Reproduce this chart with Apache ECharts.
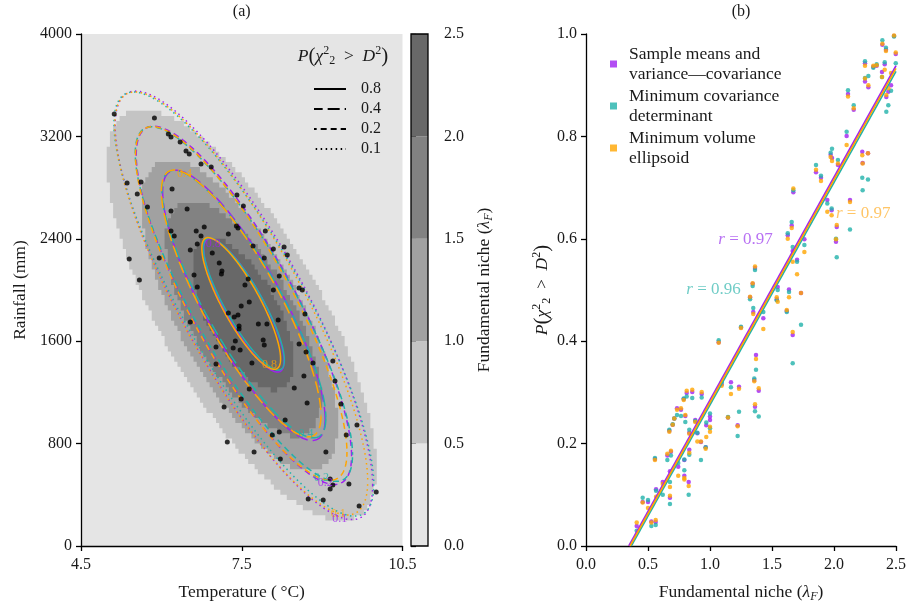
<!DOCTYPE html>
<html>
<head>
<meta charset="utf-8">
<title>Fundamental niche and ellipses</title>
<script src="https://cdn.jsdelivr.net/npm/echarts@6.0.0/dist/echarts.min.js"></script>
<style>
  html, body { margin: 0; padding: 0; background: #fff; }
  #chart { width: 911px; height: 605px; }
</style>
</head>
<body>
<div id="chart"></div>
<script>
// ---------- panel (a): sampled sites ----------
const siteTemp = [
  5.12, 5.87, 6.13, 6.18, 6.35, 6.46, 6.52, 6.74, 6.93, 5.36,
  5.62, 5.55, 6.20, 7.41, 7.53, 5.74, 6.48, 6.18, 6.80, 7.40,
  7.43, 6.65, 6.18, 6.24, 6.74, 7.25, 7.94, 6.67, 7.71, 8.29,
  6.54, 6.95, 8.09, 7.92, 8.35, 5.96, 5.40, 7.08, 7.13, 7.12,
  7.62, 7.56, 8.20, 5.59, 6.61, 6.67, 8.09, 8.57, 8.63, 7.64,
  7.49, 7.25, 7.43, 7.36, 8.18, 7.81, 7.97, 6.54, 7.45, 7.45,
  8.68, 7.38, 7.90, 7.92, 7.34, 7.47, 7.02, 8.57, 8.70, 7.69,
  7.02, 8.83, 9.20, 8.66, 9.24, 7.64, 8.48, 7.49, 7.17, 8.72,
  9.35, 9.65, 8.31, 8.20, 8.07, 9.45, 7.23, 9.07, 7.73, 8.22,
  9.15, 9.50, 9.20, 9.15, 10.01, 8.74, 9.02, 9.69
];
const siteRain = [
  3375, 3344, 3219, 3195, 3156, 3086, 3063, 2984, 2961, 2836,
  2844, 2750, 2789, 2742, 2656, 2648, 2633, 2617, 2492, 2500,
  2484, 2461, 2461, 2422, 2422, 2438, 2461, 2359, 2344, 2336,
  2313, 2289, 2320, 2250, 2273, 2250, 2242, 2211, 2148, 2125,
  2086, 2039, 2109, 2078, 2117, 2023, 2000, 2016, 2000, 1906,
  1875, 1820, 1805, 1789, 1766, 1734, 1734, 1750, 1719, 1695,
  1813, 1602, 1609, 1570, 1547, 1531, 1555, 1578, 1516, 1430,
  1422, 1430, 1445, 1328, 1289, 1227, 1234, 1148, 1086, 1117,
  1109, 945, 984, 891, 867, 867, 813, 734, 734, 680,
  523, 484, 477, 445, 422, 367, 359, 313
];
const tempTicks = [4.5, 7.5, 10.5];

// fundamental niche map: band outlines (lower bound of lambda_F)
const bandLevels = [0.5, 1.0, 1.5, 2.0];
const bandCenterT = [7.50, 7.46, 7.53, 7.52];
const bandCenterR = [1805, 1801, 1775, 1812];
const bandHalfT = [2.51, 1.83, 1.45, 0.95];
const bandHalfR = [1609, 1215, 918, 594];
const bandRho = [-0.74, -0.71, -0.67, -0.62];
const nicheBreaks = [0, 0.5, 1.0, 1.5, 2.0, 2.5];
const nicheColors = ['#e5e5e5', '#c4c4c4', '#a1a1a1', '#828282', '#686868'];
// raster of the niche map: 100 x 100 cells
const rasterT0 = 4.5, rasterCellT = 0.06, rasterCellR = 40, rasterRows = 100;

// fitted ellipses, one per estimator
const methodNames = [
  'Sample means and\nvariance\u2014covariance',
  'Minimum covariance\ndeterminant',
  'Minimum volume\nellipsoid'
];
const methodColors = ['#a020f0', '#20b2aa', '#ffa500'];
const ellCenterT = [7.54, 7.54, 7.49];
const ellCenterR = [1880, 1890, 1895];
const ellSdT = [1.12, 1.13, 1.10];
const ellSdR = [780, 772, 770];
const ellRho = [-0.84, -0.85, -0.84];
const probLevels = [0.8, 0.4, 0.2, 0.1];
const probDash = [null, [12, 5], [6, 4], [1.5, 3.5]];

// inline contour labels
const cLabelText = ['0.8', '0.8', '0.4', '0.4', '0.2', '0.2', '0.1', '0.1'];
const cLabelT = [6.97, 8.02, 6.43, 8.70, 8.99, 9.06, 9.30, 9.33];
const cLabelR = [2359, 1414, 2911, 875, 529, 490, 255, 211];
const cLabelMethod = [0, 2, 2, 1, 1, 0, 2, 0];

// ---------- panel (b) ----------
const nicheX = [
  0.409, 0.457, 0.500, 0.527, 0.562, 0.556, 0.565, 0.619, 0.656, 0.677,
  0.677, 0.685, 0.672, 0.699, 0.712, 0.734, 0.744, 0.766, 0.788, 0.793,
  0.793, 0.801, 0.812, 0.828, 0.833, 0.833, 0.857, 0.881, 0.898, 0.927,
  0.933, 0.965, 0.970, 1.000, 1.000, 1.070, 1.094, 1.145, 1.169, 1.223,
  1.234, 1.250, 1.323, 1.344, 1.349, 1.357, 1.363, 1.363, 1.371, 1.393,
  1.430, 1.538, 1.546, 1.619, 1.627, 1.637, 1.659, 1.667, 1.672, 1.667,
  1.702, 1.734, 1.761, 1.855, 1.895, 1.946, 1.981, 1.973, 1.984, 2.016,
  2.022, 2.032, 2.102, 2.113, 2.129, 2.159, 2.228, 2.231, 2.250, 2.250,
  2.274, 2.277, 2.317, 2.344, 2.387, 2.390, 2.409, 2.419, 2.422, 2.438,
  2.460, 2.484, 2.498
];
const probSample = [
  0.039, 0.086, 0.086, 0.048, 0.047, 0.170, 0.111, 0.125, 0.177, 0.146,
  0.094, 0.184, 0.225, 0.237, 0.249, 0.269, 0.155, 0.266, 0.287, 0.168,
  0.137, 0.254, 0.299, 0.125, 0.221, 0.188, 0.301, 0.246, 0.220, 0.203,
  0.297, 0.193, 0.236, 0.253, 0.246, 0.398, 0.316, 0.251, 0.320, 0.236,
  0.311, 0.427, 0.486, 0.512, 0.457, 0.324, 0.543, 0.272, 0.373, 0.303,
  0.445, 0.482, 0.506, 0.459, 0.607, 0.501, 0.626, 0.576, 0.691, 0.412,
  0.559, 0.494, 0.599, 0.730, 0.719, 0.676, 0.656, 0.764, 0.758, 0.594,
  0.623, 0.744, 0.801, 0.883, 0.676, 0.852, 0.770, 0.748, 0.907, 0.943,
  0.767, 0.896, 0.936, 0.938, 0.926, 0.979, 0.941, 0.969, 0.877, 0.887,
  0.900, 0.996, 0.961
];
const probMCD = [
  0.030, 0.094, 0.090, 0.039, 0.041, 0.172, 0.108, 0.100, 0.168, 0.125,
  0.082, 0.177, 0.227, 0.238, 0.249, 0.256, 0.162, 0.254, 0.288, 0.169,
  0.148, 0.242, 0.292, 0.100, 0.227, 0.178, 0.289, 0.244, 0.221, 0.168,
  0.290, 0.193, 0.241, 0.259, 0.230, 0.402, 0.320, 0.252, 0.310, 0.215,
  0.262, 0.428, 0.482, 0.508, 0.465, 0.327, 0.539, 0.263, 0.344, 0.253,
  0.457, 0.480, 0.500, 0.457, 0.611, 0.496, 0.633, 0.584, 0.695, 0.357,
  0.555, 0.432, 0.588, 0.744, 0.723, 0.669, 0.659, 0.768, 0.776, 0.600,
  0.564, 0.754, 0.809, 0.890, 0.618, 0.861, 0.719, 0.695, 0.914, 0.947,
  0.716, 0.918, 0.934, 0.941, 0.916, 0.988, 0.945, 0.973, 0.848, 0.861,
  0.889, 0.995, 0.943
];
const probMVE = [
  0.046, 0.085, 0.074, 0.046, 0.051, 0.168, 0.096, 0.121, 0.180, 0.115,
  0.098, 0.186, 0.223, 0.237, 0.249, 0.266, 0.137, 0.269, 0.285, 0.133,
  0.130, 0.256, 0.303, 0.117, 0.219, 0.182, 0.305, 0.242, 0.204, 0.204,
  0.301, 0.190, 0.213, 0.233, 0.223, 0.397, 0.313, 0.251, 0.297, 0.234,
  0.307, 0.426, 0.487, 0.513, 0.453, 0.322, 0.546, 0.277, 0.365, 0.308,
  0.424, 0.486, 0.477, 0.461, 0.600, 0.486, 0.621, 0.555, 0.698, 0.418,
  0.531, 0.494, 0.574, 0.735, 0.713, 0.653, 0.646, 0.760, 0.752, 0.599,
  0.627, 0.747, 0.783, 0.878, 0.672, 0.855, 0.763, 0.747, 0.913, 0.938,
  0.767, 0.900, 0.938, 0.939, 0.916, 0.981, 0.930, 0.967, 0.881, 0.894,
  0.924, 0.997, 0.964
];
const methodProbs = [probSample, probMCD, probMVE];

// regression lines: from (x0, 0) to (2.5, y1)
const fitX0 = [0.345, 0.365, 0.355];
const fitY1 = [0.938, 0.927, 0.933];
const fitXEnd = 2.5;
const rValues = ['0.97', '0.96', '0.97'];
const rLabelX = [1.506, 1.248, 2.016];
const rLabelY = [0.598, 0.500, 0.650];
const rLabelSide = ['left', 'left', 'right'];
const rLabelColors = ['#a64df0', '#4bbfb8', '#ffb740'];

// ---------- styling ----------
const FONT = 'Liberation Serif';
const TEXT = '#1a1a1a';
const tickText = { fontFamily: FONT, fontSize: 16, color: TEXT };
const wordText = { fontFamily: FONT, fontSize: 17.5, color: TEXT };
const mathRich = {
  it: { fontFamily: FONT, fontSize: 17.5, fontStyle: 'italic', color: TEXT, lineHeight: 22 },
  rm: { fontFamily: FONT, fontSize: 17.5, color: TEXT, lineHeight: 22 },
  big: { fontFamily: FONT, fontSize: 21, color: TEXT, lineHeight: 22 },
  sup: { fontFamily: FONT, fontSize: 12, color: TEXT, lineHeight: 12, verticalAlign: 'top' },
  sub: { fontFamily: FONT, fontSize: 12, color: TEXT, lineHeight: 12, verticalAlign: 'bottom' },
  subi: { fontFamily: FONT, fontSize: 12, fontStyle: 'italic', color: TEXT, lineHeight: 12, verticalAlign: 'bottom' }
};
const probText = '{it|P}{big|(}{it|\u03c7}{sup|2}{sub|2}{rm|\u2002>\u2002}{it|D}{sup|2}{big|)}';
const nicheName = '{rm|Fundamental niche (}{it|\u03bb}{subi|F}{rm|)}';

function axisCommon(extra) {
  return Object.assign({
    axisLine: { show: true, lineStyle: { color: '#000', width: 1.3 } },
    axisTick: { show: true, inside: false, length: 5, lineStyle: { color: '#000', width: 1.3 } },
    axisLabel: Object.assign({ margin: 9 }, tickText),
    splitLine: { show: false },
    nameLocation: 'middle',
    nameTextStyle: Object.assign({ rich: mathRich }, wordText)
  }, extra);
}

// parametric ellipse in data space -> pixel points
function ellipseRing(api, cT, cR, hT, hR, rho, n) {
  const pts = [];
  const s = Math.sqrt(1 - rho * rho);
  for (let i = 0; i <= n; i++) {
    const t = 2 * Math.PI * i / n;
    pts.push(api.coord([cT + hT * Math.cos(t), cR + hR * (rho * Math.cos(t) + s * Math.sin(t))]));
  }
  return pts;
}

// stair-step outline of an elliptical band on the niche raster
function bandOutline(api, cT, cR, hT, hR, rho) {
  const rows = [];
  for (let j = 0; j < rasterRows; j++) {
    const r0 = j * rasterCellR, r1 = r0 + rasterCellR;
    const v = ((r0 + r1) / 2 - cR) / hR;
    if (Math.abs(v) >= 1) continue;
    const w = Math.sqrt((1 - rho * rho) * (1 - v * v));
    const tMin = cT + hT * (rho * v - w);
    const tMax = cT + hT * (rho * v + w);
    const iL = Math.ceil((tMin - rasterT0) / rasterCellT - 0.5);
    const iR = Math.floor((tMax - rasterT0) / rasterCellT - 0.5);
    if (iL > iR) continue;
    rows.push({ tL: rasterT0 + iL * rasterCellT, tR: rasterT0 + (iR + 1) * rasterCellT, r0, r1 });
  }
  const pts = [];
  rows.forEach(r => { pts.push(api.coord([r.tL, r.r0]), api.coord([r.tL, r.r1])); });
  rows.slice().reverse().forEach(r => { pts.push(api.coord([r.tR, r.r1]), api.coord([r.tR, r.r0])); });
  return pts;
}

const series = [];

// niche bands
series.push({
  type: 'custom', name: 'niche', xAxisIndex: 0, yAxisIndex: 0, z: 1, silent: true,
  encode: { x: 0, y: 1 },
  data: bandLevels.map((lv, i) => [bandCenterT[i], bandCenterR[i], bandHalfT[i], bandHalfR[i], bandRho[i], i]),
  renderItem: (params, api) => ({
    type: 'polygon',
    shape: { points: bandOutline(api, api.value(0), api.value(1), api.value(2), api.value(3), api.value(4)) },
    style: { fill: nicheColors[api.value(5) + 1], stroke: null }
  })
});

// ellipses for each estimator and probability level
methodNames.forEach((nm, m) => {
  series.push({
    type: 'custom', name: 'ellipse' + m, xAxisIndex: 0, yAxisIndex: 0, z: 3, silent: true,
    encode: { x: 0, y: 1 },
    data: probLevels.map((p, l) => [ellCenterT[m], ellCenterR[m], ellSdT[m], ellSdR[m], ellRho[m], l]),
    renderItem: (params, api) => {
      const l = api.value(5);
      const d = Math.sqrt(-2 * Math.log(probLevels[l]));
      const dash = probDash[l];
      const period = dash ? dash[0] + dash[1] : 0;
      return {
        type: 'polyline',
        shape: { points: ellipseRing(api, api.value(0), api.value(1), d * api.value(2), d * api.value(3), api.value(4), 240) },
        style: { fill: null, stroke: methodColors[m], lineWidth: 1.5, lineDash: dash, lineDashOffset: m * period / 3 }
      };
    }
  });
});

// contour labels
series.push({
  type: 'scatter', name: 'contour labels', xAxisIndex: 0, yAxisIndex: 0, z: 5, silent: true,
  symbolSize: 0,
  data: cLabelText.map((t, i) => ({
    value: [cLabelT[i], cLabelR[i]],
    label: {
      show: true, position: 'inside', formatter: t,
      fontFamily: FONT, fontSize: 12, color: methodColors[cLabelMethod[i]], opacity: 0.75
    }
  }))
});

// sample sites
series.push({
  type: 'scatter', name: 'sites', xAxisIndex: 0, yAxisIndex: 0, z: 4, silent: true,
  symbolSize: 5, itemStyle: { color: '#000' },
  data: siteTemp.map((t, i) => [t, siteRain[i]])
});

// dummy series for the line-style legend of panel (a)
probLevels.forEach((p, l) => {
  series.push({
    type: 'line', name: String(p), xAxisIndex: 0, yAxisIndex: 0, data: [],
    symbol: 'none', itemStyle: { color: '#000' },
    lineStyle: { color: '#000', width: 1.5, type: probDash[l] || 'solid' }
  });
});

// colorbar
series.push({
  type: 'custom', name: 'colorbar', xAxisIndex: 1, yAxisIndex: 1, z: 2, silent: true,
  encode: { x: 0, y: 1 },
  data: nicheColors.map((c, i) => [0.5, nicheBreaks[i], nicheBreaks[i + 1], i]),
  renderItem: (params, api) => {
    const p0 = api.coord([0, api.value(1)]);
    const p1 = api.coord([1, api.value(2)]);
    return {
      type: 'rect',
      shape: { x: p0[0], y: p1[1], width: p1[0] - p0[0], height: p0[1] - p1[1] },
      style: { fill: nicheColors[api.value(3)], stroke: null }
    };
  }
});
series.push({
  type: 'custom', name: 'colorbar frame', xAxisIndex: 1, yAxisIndex: 1, z: 3, silent: true,
  encode: { x: 0, y: 1 },
  data: [[0.5, nicheBreaks[0], nicheBreaks[nicheBreaks.length - 1]]],
  renderItem: (params, api) => {
    const p0 = api.coord([0, api.value(1)]);
    const p1 = api.coord([1, api.value(2)]);
    return {
      type: 'rect',
      shape: { x: p0[0], y: p1[1], width: p1[0] - p0[0], height: p0[1] - p1[1] },
      style: { fill: null, stroke: '#000', lineWidth: 1.3 }
    };
  }
});

// panel (b) scatter points
methodNames.forEach((nm, m) => {
  series.push({
    type: 'scatter', name: nm, xAxisIndex: 2, yAxisIndex: 2, z: 3,
    symbolSize: 4.5, itemStyle: { color: methodColors[m] },
    data: nicheX.map((x, i) => [x, methodProbs[m][i]])
  });
});

// regression lines
methodNames.forEach((nm, m) => {
  series.push({
    type: 'line', name: 'fit' + m, xAxisIndex: 2, yAxisIndex: 2, z: 4,
    symbol: 'none', silent: true,
    lineStyle: { color: methodColors[m], width: 1.6 },
    data: [[fitX0[m], 0], [fitXEnd, fitY1[m]]]
  });
});

// correlation labels
series.push({
  type: 'scatter', name: 'r labels', xAxisIndex: 2, yAxisIndex: 2, z: 5, silent: true,
  symbolSize: 0,
  data: rValues.map((v, m) => ({
    value: [rLabelX[m], rLabelY[m]],
    label: {
      show: true, position: rLabelSide[m], distance: 0,
      formatter: '{i|r} = ' + v,
      fontFamily: FONT, fontSize: 17, color: rLabelColors[m],
      rich: { i: { fontFamily: FONT, fontSize: 17, fontStyle: 'italic', color: rLabelColors[m] } }
    }
  }))
});

const option = {
  animation: false,
  backgroundColor: '#fff',
  textStyle: { fontFamily: FONT },
  grid: [
    { left: 81, top: 34, width: 321.5, height: 512, show: true, backgroundColor: nicheColors[0], borderWidth: 0, outerBoundsMode: 'none' },
    { left: 411, top: 34, width: 17, height: 512, show: false, outerBoundsMode: 'none' },
    { left: 586, top: 34, width: 310, height: 512, show: false, outerBoundsMode: 'none' }
  ],
  xAxis: [
    axisCommon({
      gridIndex: 0, type: 'value', min: 4.5, max: 10.5,
      axisTick: { show: true, inside: false, length: 5, customValues: tempTicks, lineStyle: { color: '#000', width: 1.3 } },
      axisLabel: Object.assign({ margin: 11, customValues: tempTicks, formatter: v => v.toFixed(1) }, tickText),
      name: '{rm|Temperature (\u2009\u00b0C)}', nameGap: 35
    }),
    { gridIndex: 1, type: 'value', min: 0, max: 1, show: false },
    axisCommon({
      gridIndex: 2, type: 'value', min: 0, max: 2.5, interval: 0.5,
      axisLabel: Object.assign({ margin: 11, formatter: v => v.toFixed(1) }, tickText),
      name: nicheName, nameGap: 35
    })
  ],
  yAxis: [
    axisCommon({
      gridIndex: 0, type: 'value', min: 0, max: 4000, interval: 800,
      axisLabel: Object.assign({ margin: 9, formatter: v => String(v) }, tickText),
      name: '{rm|Rainfall (mm)}', nameGap: 50
    }),
    axisCommon({
      gridIndex: 1, type: 'value', min: 0, max: 2.5, interval: 0.5, position: 'right',
      axisLine: { show: false },
      axisLabel: Object.assign({ margin: 16, formatter: v => v.toFixed(1) }, tickText),
      name: nicheName, nameGap: 45, nameRotate: 90
    }),
    axisCommon({
      gridIndex: 2, type: 'value', min: 0, max: 1, interval: 0.2,
      axisLabel: Object.assign({ margin: 9, formatter: v => v.toFixed(1) }, tickText),
      name: probText, nameGap: 28
    })
  ],
  legend: [
    {
      data: probLevels.map(String), orient: 'vertical', left: 313, top: 81, padding: 0,
      itemWidth: 32, itemHeight: 14, itemGap: 4, selectedMode: false,
      itemStyle: { color: 'rgba(0,0,0,0)', borderWidth: 0 },
      textStyle: Object.assign({ lineHeight: 14, padding: [0, 0, 0, 10] }, tickText)
    },
    {
      data: methodNames, orient: 'vertical', left: 610, top: 44, padding: 0,
      icon: 'rect', itemWidth: 7, itemHeight: 7, itemGap: 2, selectedMode: false,
      textStyle: Object.assign({ lineHeight: 20, padding: [0, 0, 0, 7] }, wordText)
    }
  ],
  graphic: [
    { type: 'text', x: 241.7, y: 12, style: { text: '(a)', align: 'center', verticalAlign: 'middle', fill: TEXT, font: '16px "Liberation Serif"' } },
    { type: 'text', x: 741, y: 12, style: { text: '(b)', align: 'center', verticalAlign: 'middle', fill: TEXT, font: '16px "Liberation Serif"' } },
    { type: 'text', x: 343, y: 56, z: 10, style: { text: probText, rich: mathRich, align: 'center', verticalAlign: 'middle', fill: TEXT, font: '17.5px "Liberation Serif"' } }
  ],
  series: series
};

const chart = echarts.init(document.getElementById('chart'));
chart.setOption(option);
</script>
</body>
</html>
